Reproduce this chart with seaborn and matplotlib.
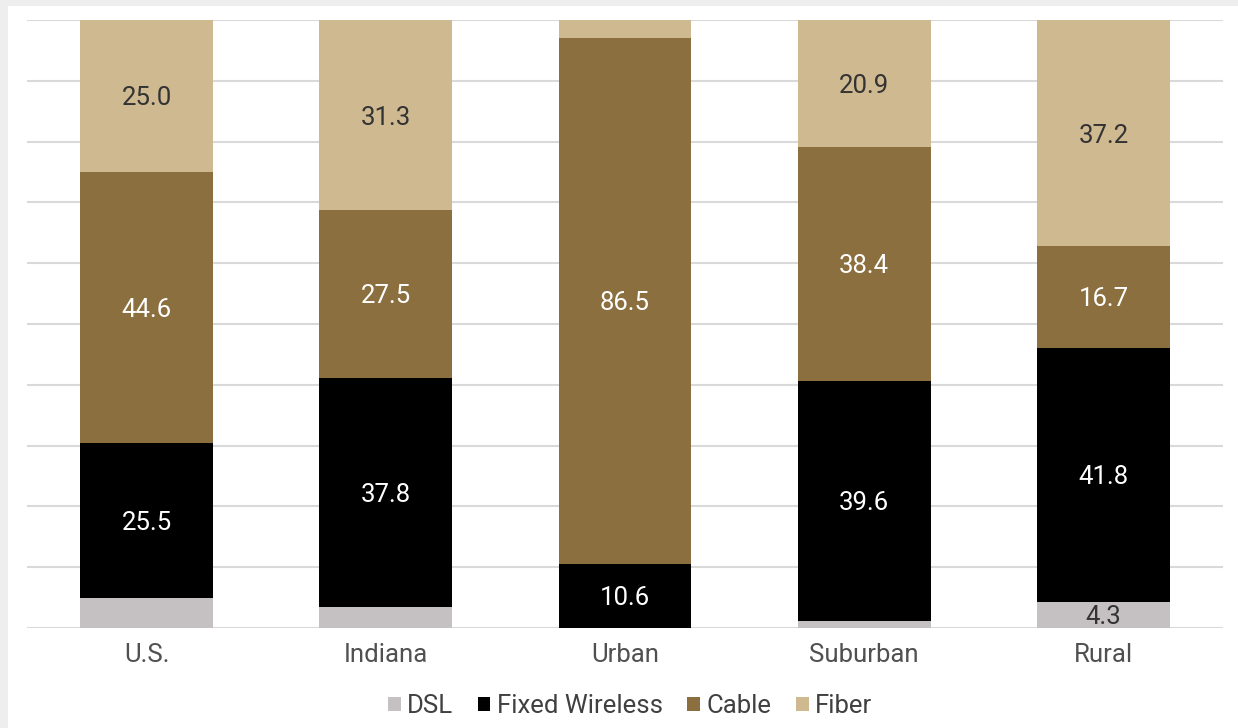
import matplotlib
matplotlib.use("Agg")
import matplotlib.pyplot as plt
from matplotlib.patches import Patch, Rectangle
import seaborn as sns
import pandas as pd
import numpy as np

categories = ["U.S.", "Indiana", "Urban", "Suburban", "Rural"]
series = ["DSL", "Fixed Wireless", "Cable", "Fiber"]
dsl = [4.9, 3.4, 0.0, 1.1, 4.3]
fixed_wireless = [25.5, 37.8, 10.6, 39.6, 41.8]
cable = [44.6, 27.5, 86.5, 38.4, 16.7]
fiber = [25.0, 31.3, 2.9, 20.9, 37.2]
# which segments carry a value label
label_dsl = [False, False, False, False, True]
label_fiber = [True, True, False, True, True]

colors = {"DSL": "#c5c1c2", "Fixed Wireless": "#000000", "Cable": "#8c6f3e", "Fiber": "#cfb991"}
label_colors = {"DSL": "#333333", "Fixed Wireless": "#ffffff", "Cable": "#ffffff", "Fiber": "#333333"}

df = pd.DataFrame({"category": categories, "DSL": dsl, "Fixed Wireless": fixed_wireless,
                   "Cable": cable, "Fiber": fiber})

sns.set_theme(style="white")
plt.rcParams["font.family"] = ["Roboto", "DejaVu Sans"]

fig = plt.figure(figsize=(12.38, 7.28), dpi=100, facecolor="#eeeeee")
fig.patches.append(Rectangle((8 / 1238, 0), 1, (728 - 6) / 728, transform=fig.transFigure,
                             facecolor="white", edgecolor="none", zorder=-5))
ax = fig.add_axes([27 / 1238, (728 - 628) / 728, (1223 - 27) / 1238, (628 - 20) / 728])
ax.set_facecolor("none")
ax.set_zorder(2)

cum = df[series].cumsum(axis=1)
for s in reversed(series):
    sns.barplot(x=df["category"], y=cum[s], color=colors[s], width=0.556, ax=ax,
                saturation=1, zorder=2, linewidth=0)

labels_on = {"DSL": label_dsl, "Fixed Wireless": [True] * 5, "Cable": [True] * 5, "Fiber": label_fiber}
fs = 18.5
for s in series:
    vals = df[s].values
    tops = cum[s].values
    for i, (v, t) in enumerate(zip(vals, tops)):
        if labels_on[s][i]:
            ax.text(i, t - v / 2, f"{v:.1f}", ha="center", va="center_baseline", fontsize=fs,
                    color=label_colors[s], zorder=5)

ax.set_ylim(0, 100)
ax.set_xlim(-0.5, 4.5)
ax.set_yticks(np.arange(0, 101, 10))
ax.yaxis.grid(True, color="#d9d9d9", linewidth=1.5, zorder=1)
ax.set_axisbelow(True)
ax.set_yticklabels([])
ax.tick_params(axis="y", length=0)
ax.tick_params(axis="x", length=0, labelsize=fs, labelcolor="#505050", pad=11)
ax.set_xlabel("")
ax.set_ylabel("")
for sp in ax.spines.values():
    sp.set_visible(False)

handles = [Patch(facecolor=colors[s], edgecolor="none", label=s) for s in series]
fig.legend(handles=handles, loc="center", bbox_to_anchor=(0.509, 0.030), ncol=4, frameon=False,
           fontsize=fs, handlelength=0.5, handleheight=0.5, handletextpad=0.25,
           columnspacing=0.95, labelcolor="#404040")

fig.savefig("out.png", dpi=100, facecolor=fig.get_facecolor())
